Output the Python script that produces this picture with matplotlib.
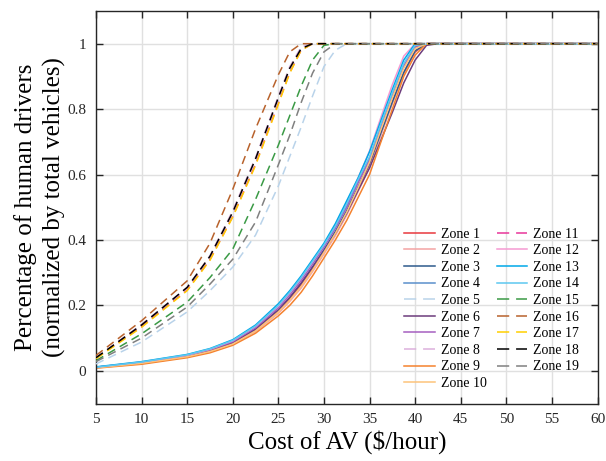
import matplotlib
matplotlib.use("Agg")
import matplotlib.pyplot as plt

# cost of AV ($/hour) at which the curves were read
cost = [5, 10, 15, 17.5, 20, 22.5, 25, 26.25, 27.5, 28.75, 30, 31.25,
        32.5, 33.75, 35, 36.25, 37.5, 38.75, 40, 41.25, 42.5, 60]

zone1 = [0.010, 0.024, 0.044, 0.060, 0.084, 0.124, 0.182, 0.220, 0.263, 0.312, 0.364,
         0.420, 0.485, 0.558, 0.630, 0.725, 0.820, 0.910, 0.975, 1, 1, 1]
zone2 = [0.009, 0.022, 0.042, 0.058, 0.081, 0.120, 0.176, 0.212, 0.253, 0.303, 0.357,
         0.413, 0.476, 0.548, 0.622, 0.720, 0.818, 0.912, 0.978, 1, 1, 1]
zone3 = [0.010, 0.025, 0.045, 0.061, 0.086, 0.127, 0.186, 0.224, 0.268, 0.318, 0.370,
         0.426, 0.490, 0.563, 0.634, 0.728, 0.822, 0.912, 0.978, 1, 1, 1]
zone4 = [0.011, 0.026, 0.047, 0.064, 0.090, 0.133, 0.195, 0.234, 0.279, 0.329, 0.381,
         0.438, 0.503, 0.578, 0.650, 0.748, 0.842, 0.932, 0.990, 1, 1, 1]
zone5 = [0.021, 0.088, 0.180, 0.245, 0.317, 0.415, 0.565, 0.655, 0.745, 0.840, 0.930,
         0.980, 1, 1, 1, 1, 1, 1, 1, 1, 1, 1]
zone6 = [0.010, 0.025, 0.045, 0.062, 0.086, 0.127, 0.186, 0.224, 0.268, 0.316, 0.366,
         0.420, 0.482, 0.552, 0.620, 0.705, 0.790, 0.880, 0.950, 0.995, 1, 1]
zone7 = [0.011, 0.026, 0.047, 0.064, 0.089, 0.132, 0.193, 0.232, 0.276, 0.326, 0.378,
         0.435, 0.500, 0.575, 0.645, 0.745, 0.840, 0.930, 0.990, 1, 1, 1]
zone8 = [0.040, 0.142, 0.255, 0.352, 0.490, 0.652, 0.840, 0.930, 0.990, 1, 1,
         1, 1, 1, 1, 1, 1, 1, 1, 1, 1, 1]
zone9 = [0.008, 0.020, 0.040, 0.055, 0.078, 0.115, 0.168, 0.200, 0.240, 0.290, 0.345,
         0.400, 0.460, 0.530, 0.600, 0.700, 0.800, 0.900, 0.965, 1, 1, 1]
zone10 = [0.009, 0.023, 0.043, 0.059, 0.082, 0.122, 0.180, 0.216, 0.258, 0.308, 0.362,
          0.420, 0.485, 0.560, 0.638, 0.738, 0.835, 0.925, 0.985, 1, 1, 1]
zone11 = [0.038, 0.135, 0.247, 0.340, 0.472, 0.632, 0.818, 0.912, 0.980, 1, 1,
          1, 1, 1, 1, 1, 1, 1, 1, 1, 1, 1]
zone12 = [0.011, 0.027, 0.048, 0.066, 0.092, 0.136, 0.198, 0.238, 0.283, 0.333, 0.385,
          0.445, 0.515, 0.590, 0.672, 0.775, 0.875, 0.962, 1, 1, 1, 1]
zone13 = [0.012, 0.028, 0.050, 0.068, 0.095, 0.140, 0.205, 0.245, 0.290, 0.340, 0.390,
          0.450, 0.520, 0.590, 0.670, 0.765, 0.860, 0.950, 1, 1, 1, 1]
zone14 = [0.011, 0.027, 0.049, 0.067, 0.093, 0.137, 0.200, 0.240, 0.285, 0.335, 0.385,
          0.442, 0.510, 0.585, 0.655, 0.755, 0.850, 0.940, 0.995, 1, 1, 1]
zone15 = [0.031, 0.113, 0.210, 0.285, 0.372, 0.524, 0.690, 0.780, 0.870, 0.950, 0.995,
          1, 1, 1, 1, 1, 1, 1, 1, 1, 1, 1]
zone16 = [0.047, 0.153, 0.275, 0.390, 0.555, 0.740, 0.905, 0.975, 1, 1, 1,
          1, 1, 1, 1, 1, 1, 1, 1, 1, 1, 1]
zone17 = [0.037, 0.133, 0.245, 0.338, 0.470, 0.628, 0.815, 0.910, 0.980, 1, 1,
          1, 1, 1, 1, 1, 1, 1, 1, 1, 1, 1]
zone18 = [0.040, 0.140, 0.255, 0.350, 0.485, 0.648, 0.835, 0.925, 0.985, 1, 1,
          1, 1, 1, 1, 1, 1, 1, 1, 1, 1, 1]
zone19 = [0.028, 0.100, 0.195, 0.265, 0.341, 0.455, 0.630, 0.720, 0.820, 0.910, 0.975,
          1, 1, 1, 1, 1, 1, 1, 1, 1, 1, 1]

zones = [zone1, zone2, zone3, zone4, zone5, zone6, zone7, zone8, zone9, zone10,
         zone11, zone12, zone13, zone14, zone15, zone16, zone17, zone18, zone19]
labels = [f"Zone {i}" for i in range(1, 20)]
colors = ["#e8383d", "#f4a3a3", "#2d5a8c", "#5a8fcb", "#b9d3ea", "#6c3c7c",
          "#a55fc0", "#dcb0dc", "#f5822e", "#fdc37a", "#e8359a", "#f59ad2",
          "#00a8e8", "#5cc8f0", "#3a9a45", "#b8622c", "#ffd000", "#000000",
          "#808080"]
dashed = {5, 8, 11, 15, 16, 17, 18, 19}

plt.rcParams["font.family"] = ["Liberation Serif", "DejaVu Serif"]

fig = plt.figure(figsize=(6.06, 4.61), dpi=100)
ax = fig.add_axes([0.1584, 0.1247, 0.8276, 0.8515])

for i, (ys, lab, col) in enumerate(zip(zones, labels, colors), start=1):
    if i in dashed:
        ax.plot(cost, ys, color=col, lw=1.1, ls=(0, (5.5, 3.5)), label=lab, zorder=3)
    else:
        ax.plot(cost, ys, color=col, lw=1.1, label=lab, zorder=2)

ax.set_xlim(5, 60)
ax.set_ylim(-0.1, 1.1)
ax.set_xticks(range(5, 61, 5))
ax.set_yticks([0, 0.2, 0.4, 0.6, 0.8, 1])
ax.set_yticklabels(["0", "0.2", "0.4", "0.6", "0.8", "1"])
ax.grid(True, color="#e0e0e0", lw=1.0)
ax.set_axisbelow(True)
ax.tick_params(direction="in", length=5, width=1, labelsize=11,
               top=True, right=True, colors="#262626", pad=7)
for s in ax.spines.values():
    s.set_color("#262626")
    s.set_linewidth(1.0)

ax.set_xlabel("Cost of AV (\\$/hour)", fontsize=18, labelpad=3)
ax.set_ylabel("Percentage of human drivers\n(normalized by total vehicles)",
              fontsize=18, linespacing=1.35, labelpad=1)

leg = ax.legend(ncol=2, loc="lower right", frameon=False, fontsize=10,
                handlelength=2.2, handletextpad=0.45, columnspacing=0.7,
                labelspacing=0.26, borderaxespad=0.0,
                bbox_to_anchor=(0.975, 0.02))
# legend handles show two long dashes, like the original
for i, ln in enumerate(leg.get_lines(), start=1):
    if i in dashed:
        ln.set_dashes((8, 4.5))

fig.savefig("out.png", dpi=100)
